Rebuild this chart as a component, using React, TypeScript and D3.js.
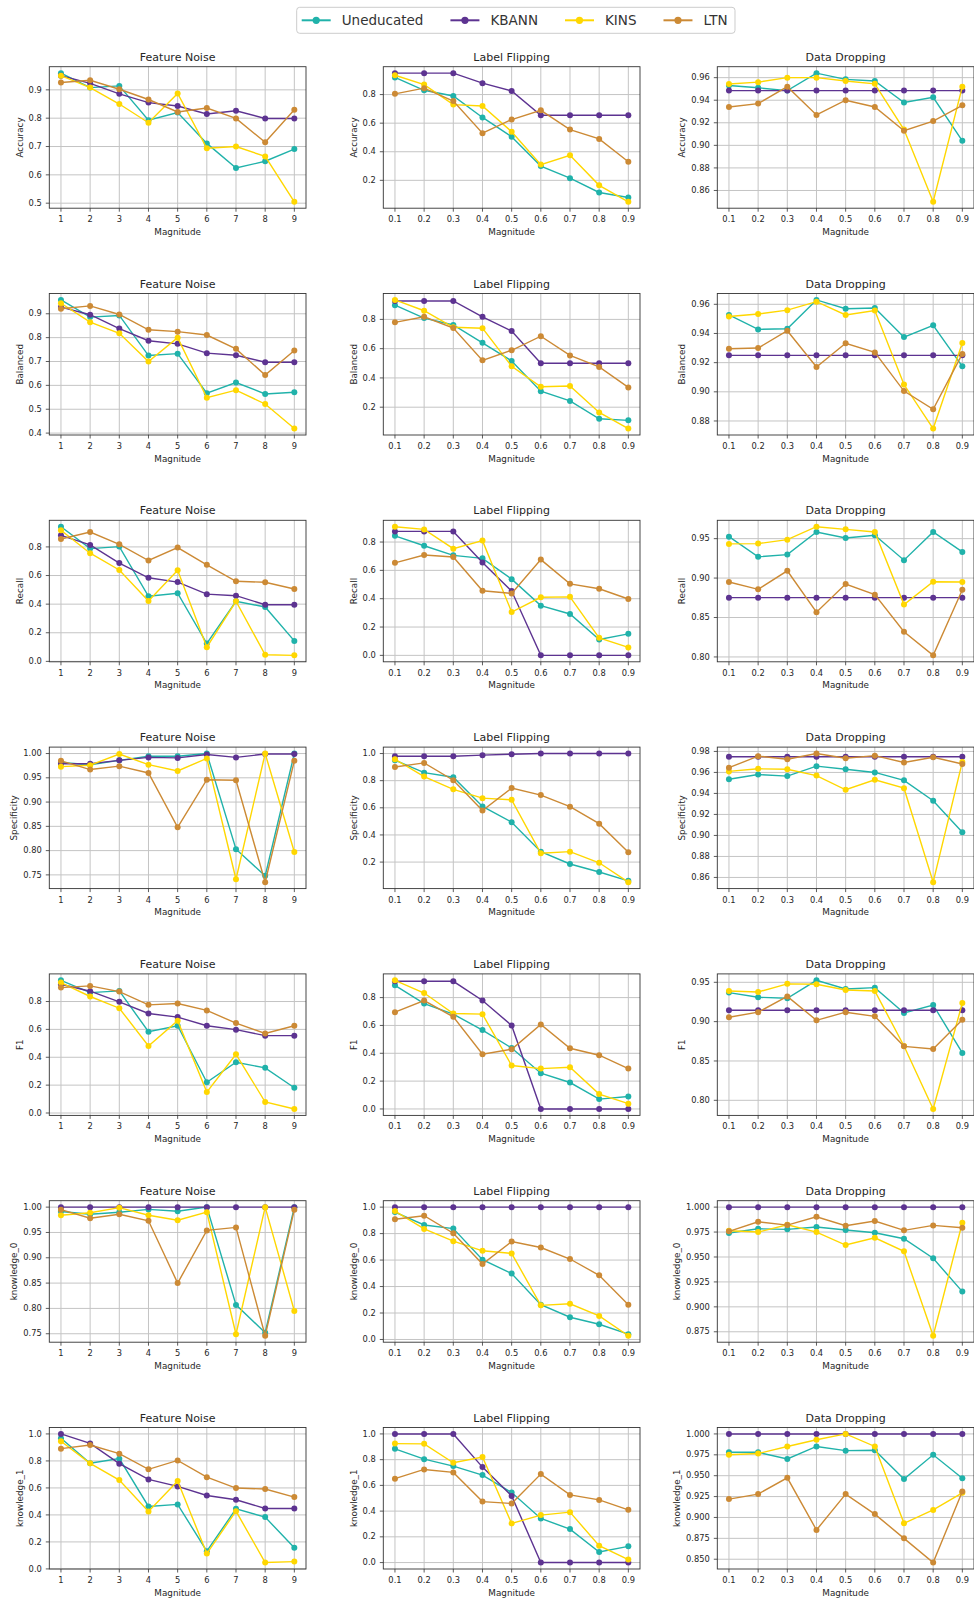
import React from "react";
import * as d3 from "d3";

const seriesNames = ["Uneducated", "KBANN", "KINS", "LTN"];
const seriesColors = ["#20b2aa", "#5d3391", "#ffd700", "#cc8a35"];
const attackNames = ["Feature Noise", "Label Flipping", "Data Dropping"];
const metricNames = ["Accuracy", "Balanced", "Recall", "Specificity", "F1", "knowledge_0", "knowledge_1"];

const noiseMagnitude = [1, 2, 3, 4, 5, 6, 7, 8, 9];
const fractionMagnitude = [0.1, 0.2, 0.3, 0.4, 0.5, 0.6, 0.7, 0.8, 0.9];
const noiseTickLabels = ["1", "2", "3", "4", "5", "6", "7", "8", "9"];
const fractionTickLabels = ["0.1", "0.2", "0.3", "0.4", "0.5", "0.6", "0.7", "0.8", "0.9"];

// each array: [Uneducated, KBANN, KINS, LTN]
const accuracyNoise = [
  [0.959, 0.908, 0.914, 0.793, 0.82, 0.711, 0.624, 0.648, 0.691],
  [0.95, 0.923, 0.886, 0.855, 0.843, 0.815, 0.826, 0.799, 0.799],
  [0.95, 0.908, 0.85, 0.784, 0.887, 0.694, 0.7, 0.665, 0.505],
  [0.926, 0.934, 0.902, 0.866, 0.822, 0.836, 0.799, 0.715, 0.83],
];
const accuracyFlip = [
  [0.92, 0.83, 0.79, 0.64, 0.505, 0.3, 0.215, 0.115, 0.08],
  [0.95, 0.95, 0.95, 0.88, 0.825, 0.655, 0.655, 0.655, 0.655],
  [0.935, 0.87, 0.73, 0.72, 0.54, 0.31, 0.375, 0.165, 0.05],
  [0.805, 0.845, 0.755, 0.53, 0.625, 0.69, 0.555, 0.49, 0.33],
];
const accuracyDrop = [
  [0.953, 0.951, 0.9485, 0.964, 0.9585, 0.957, 0.938, 0.9426, 0.904],
  [0.9485, 0.9485, 0.9485, 0.9485, 0.9485, 0.9485, 0.9485, 0.9485, 0.9485],
  [0.9544, 0.956, 0.96, 0.96, 0.957, 0.9545, 0.914, 0.85, 0.952],
  [0.934, 0.937, 0.952, 0.927, 0.94, 0.934, 0.913, 0.9215, 0.9355],
];

const balancedNoise = [
  [0.958, 0.886, 0.893, 0.725, 0.733, 0.567, 0.612, 0.564, 0.571],
  [0.928, 0.896, 0.838, 0.787, 0.774, 0.735, 0.726, 0.697, 0.697],
  [0.944, 0.865, 0.818, 0.7, 0.8, 0.548, 0.58, 0.522, 0.419],
  [0.921, 0.933, 0.897, 0.833, 0.825, 0.811, 0.753, 0.643, 0.746],
];
const balancedFlip = [
  [0.897, 0.809, 0.762, 0.64, 0.516, 0.309, 0.243, 0.121, 0.11],
  [0.926, 0.926, 0.926, 0.818, 0.721, 0.5, 0.5, 0.5, 0.5],
  [0.933, 0.859, 0.746, 0.74, 0.48, 0.34, 0.345, 0.164, 0.054],
  [0.78, 0.818, 0.741, 0.52, 0.589, 0.685, 0.554, 0.475, 0.335],
];
const balancedDrop = [
  [0.9527, 0.9428, 0.9432, 0.963, 0.957, 0.9575, 0.9375, 0.9456, 0.9175],
  [0.925, 0.925, 0.925, 0.925, 0.925, 0.925, 0.925, 0.925, 0.925],
  [0.9516, 0.9534, 0.956, 0.9618, 0.9527, 0.9557, 0.905, 0.8748, 0.9335],
  [0.9295, 0.93, 0.9419, 0.917, 0.9333, 0.927, 0.9005, 0.888, 0.926],
];

const recallNoise = [
  [0.941, 0.788, 0.802, 0.455, 0.476, 0.125, 0.42, 0.38, 0.143],
  [0.881, 0.814, 0.687, 0.584, 0.554, 0.47, 0.459, 0.396, 0.396],
  [0.916, 0.756, 0.639, 0.422, 0.636, 0.099, 0.42, 0.046, 0.042],
  [0.855, 0.904, 0.818, 0.705, 0.795, 0.675, 0.56, 0.553, 0.506],
];
const recallFlip = [
  [0.844, 0.774, 0.706, 0.685, 0.538, 0.351, 0.292, 0.112, 0.152],
  [0.875, 0.875, 0.875, 0.655, 0.454, 0.0, 0.0, 0.0, 0.0],
  [0.908, 0.889, 0.753, 0.81, 0.306, 0.41, 0.413, 0.124, 0.056],
  [0.653, 0.708, 0.694, 0.456, 0.437, 0.676, 0.505, 0.47, 0.398],
];
const recallDrop = [
  [0.9525, 0.9269, 0.9298, 0.9584, 0.9508, 0.9542, 0.9227, 0.9584, 0.9332],
  [0.8752, 0.8752, 0.8752, 0.8752, 0.8752, 0.8752, 0.8752, 0.8752, 0.8752],
  [0.9433, 0.9437, 0.9487, 0.9651, 0.9618, 0.9584, 0.8664, 0.8954, 0.895],
  [0.895, 0.8857, 0.9092, 0.8567, 0.8924, 0.879, 0.832, 0.802, 0.8853],
];

const specificityNoise = [
  [0.9815, 0.977, 0.986, 0.9945, 0.9945, 1.0, 0.803, 0.748, 1.0],
  [0.979, 0.979, 0.986, 0.992, 0.991, 0.998, 0.992, 0.999, 0.999],
  [0.973, 0.976, 0.999, 0.977, 0.964, 0.99, 0.741, 1.0, 0.797],
  [0.985, 0.967, 0.974, 0.96, 0.848, 0.946, 0.945, 0.735, 0.985],
];
const specificityFlip = [
  [0.951, 0.859, 0.825, 0.61, 0.494, 0.277, 0.186, 0.127, 0.062],
  [0.98, 0.98, 0.98, 0.988, 0.995, 1.0, 1.0, 1.0, 1.0],
  [0.958, 0.83, 0.736, 0.671, 0.659, 0.265, 0.277, 0.195, 0.052],
  [0.901, 0.931, 0.803, 0.58, 0.746, 0.694, 0.608, 0.483, 0.273],
];
const specificityDrop = [
  [0.9535, 0.958, 0.9565, 0.966, 0.963, 0.96, 0.9525, 0.933, 0.903],
  [0.975, 0.975, 0.975, 0.975, 0.975, 0.975, 0.975, 0.975, 0.975],
  [0.961, 0.9635, 0.963, 0.957, 0.9435, 0.953, 0.945, 0.8555, 0.97],
  [0.9645, 0.9755, 0.9725, 0.978, 0.9735, 0.976, 0.9695, 0.9745, 0.968],
];

const f1Noise = [
  [0.952, 0.864, 0.876, 0.583, 0.626, 0.221, 0.364, 0.324, 0.181],
  [0.924, 0.874, 0.798, 0.714, 0.688, 0.626, 0.598, 0.555, 0.555],
  [0.936, 0.836, 0.752, 0.481, 0.662, 0.15, 0.421, 0.079, 0.029],
  [0.9, 0.912, 0.871, 0.776, 0.786, 0.736, 0.645, 0.571, 0.626],
];
const f1Flip = [
  [0.888, 0.757, 0.681, 0.567, 0.438, 0.257, 0.19, 0.071, 0.09],
  [0.917, 0.917, 0.917, 0.779, 0.6, 0.0, 0.0, 0.0, 0.0],
  [0.924, 0.833, 0.686, 0.681, 0.312, 0.29, 0.3, 0.107, 0.038],
  [0.695, 0.779, 0.662, 0.393, 0.429, 0.607, 0.436, 0.386, 0.29],
];
const f1Drop = [
  [0.9369, 0.931, 0.9297, 0.9525, 0.9415, 0.9432, 0.911, 0.9212, 0.8602],
  [0.9144, 0.9144, 0.9144, 0.9144, 0.9144, 0.9144, 0.9144, 0.9144, 0.9144],
  [0.939, 0.9377, 0.948, 0.9475, 0.9403, 0.939, 0.869, 0.789, 0.9237],
  [0.9055, 0.912, 0.932, 0.9017, 0.912, 0.9068, 0.8686, 0.8653, 0.9025],
];

const knowledge0Noise = [
  [0.9915, 0.986, 0.99, 0.9955, 0.992, 1.0, 0.807, 0.752, 1.0],
  [1.0, 1.0, 1.0, 1.0, 1.0, 1.0, 1.0, 1.0, 1.0],
  [0.984, 0.989, 0.999, 0.984, 0.974, 0.99, 0.749, 1.0, 0.795],
  [0.995, 0.978, 0.986, 0.973, 0.85, 0.954, 0.96, 0.746, 0.995],
];
const knowledge0Flip = [
  [0.963, 0.865, 0.838, 0.603, 0.498, 0.263, 0.168, 0.115, 0.04],
  [1.0, 1.0, 1.0, 1.0, 1.0, 1.0, 1.0, 1.0, 1.0],
  [0.97, 0.835, 0.743, 0.67, 0.65, 0.258, 0.27, 0.178, 0.028],
  [0.908, 0.935, 0.803, 0.57, 0.74, 0.695, 0.608, 0.485, 0.263],
];
const knowledge0Drop = [
  [0.974, 0.9783, 0.9777, 0.98, 0.977, 0.9743, 0.9683, 0.9487, 0.9153],
  [1.0, 1.0, 1.0, 1.0, 1.0, 1.0, 1.0, 1.0, 1.0],
  [0.9763, 0.975, 0.9823, 0.975, 0.962, 0.9693, 0.9557, 0.871, 0.9843],
  [0.9757, 0.9853, 0.982, 0.9903, 0.9813, 0.986, 0.9767, 0.9817, 0.9793],
];

const knowledge1Noise = [
  [0.968, 0.783, 0.817, 0.463, 0.478, 0.131, 0.445, 0.384, 0.156],
  [1.0, 0.93, 0.78, 0.663, 0.611, 0.544, 0.512, 0.448, 0.448],
  [0.946, 0.782, 0.658, 0.425, 0.651, 0.114, 0.428, 0.047, 0.054],
  [0.891, 0.918, 0.854, 0.738, 0.804, 0.68, 0.599, 0.592, 0.532],
];
const knowledge1Flip = [
  [0.884, 0.804, 0.75, 0.68, 0.544, 0.343, 0.26, 0.082, 0.126],
  [1.0, 1.0, 1.0, 0.742, 0.518, 0.0, 0.0, 0.0, 0.0],
  [0.925, 0.923, 0.776, 0.82, 0.304, 0.369, 0.392, 0.131, 0.023],
  [0.652, 0.724, 0.701, 0.474, 0.459, 0.688, 0.526, 0.487, 0.41],
];
const knowledge1Drop = [
  [0.978, 0.978, 0.97, 0.985, 0.98, 0.9805, 0.946, 0.975, 0.947],
  [1.0, 1.0, 1.0, 1.0, 1.0, 1.0, 1.0, 1.0, 1.0],
  [0.975, 0.9765, 0.985, 0.993, 1.0, 0.985, 0.893, 0.909, 0.9295],
  [0.922, 0.928, 0.9475, 0.885, 0.928, 0.904, 0.875, 0.846, 0.931],
];

// y tick labels per metric row, one list per attack column
const accuracyTicks = [["0.5", "0.6", "0.7", "0.8", "0.9"], ["0.2", "0.4", "0.6", "0.8"], ["0.86", "0.88", "0.90", "0.92", "0.94", "0.96"]];
const balancedTicks = [["0.4", "0.5", "0.6", "0.7", "0.8", "0.9"], ["0.2", "0.4", "0.6", "0.8"], ["0.88", "0.90", "0.92", "0.94", "0.96"]];
const recallTicks = [["0.0", "0.2", "0.4", "0.6", "0.8"], ["0.0", "0.2", "0.4", "0.6", "0.8"], ["0.80", "0.85", "0.90", "0.95"]];
const specificityTicks = [["0.75", "0.80", "0.85", "0.90", "0.95", "1.00"], ["0.2", "0.4", "0.6", "0.8", "1.0"], ["0.86", "0.88", "0.90", "0.92", "0.94", "0.96", "0.98"]];
const f1Ticks = [["0.0", "0.2", "0.4", "0.6", "0.8"], ["0.0", "0.2", "0.4", "0.6", "0.8"], ["0.80", "0.85", "0.90", "0.95"]];
const knowledge0Ticks = [["0.75", "0.80", "0.85", "0.90", "0.95", "1.00"], ["0.0", "0.2", "0.4", "0.6", "0.8", "1.0"], ["0.875", "0.900", "0.925", "0.950", "0.975", "1.000"]];
const knowledge1Ticks = [["0.0", "0.2", "0.4", "0.6", "0.8", "1.0"], ["0.0", "0.2", "0.4", "0.6", "0.8", "1.0"], ["0.850", "0.875", "0.900", "0.925", "0.950", "0.975", "1.000"]];

const panelData = [
  [accuracyNoise, accuracyFlip, accuracyDrop],
  [balancedNoise, balancedFlip, balancedDrop],
  [recallNoise, recallFlip, recallDrop],
  [specificityNoise, specificityFlip, specificityDrop],
  [f1Noise, f1Flip, f1Drop],
  [knowledge0Noise, knowledge0Flip, knowledge0Drop],
  [knowledge1Noise, knowledge1Flip, knowledge1Drop],
];
const panelTicks = [accuracyTicks, balancedTicks, recallTicks, specificityTicks, f1Ticks, knowledge0Ticks, knowledge1Ticks];

const W = 974;
const H = 1600;
const colLeft = [49.3, 383.3, 717.3];
const axW = 256.7;
const axH = 141.5;
const rowTop0 = 66.7;
const rowStep = 226.8;
const font = "DejaVu Sans, sans-serif";
const textColor = "#262626";

function measure(text, size) {
  const ctx = document.createElement("canvas").getContext("2d");
  ctx.font = `${size}px DejaVu Sans`;
  return ctx.measureText(text).width;
}

function Panel({ left, top, title, ylabel, xs, xTicks, series, yTicks }) {
  const pad = (xs[xs.length - 1] - xs[0]) * 0.05;
  const xScale = d3.scaleLinear().domain([xs[0] - pad, xs[xs.length - 1] + pad]).range([0, axW]);
  const all = series.flat();
  const lo = d3.min(all);
  const hi = d3.max(all);
  const m = (hi - lo) * 0.05;
  const yScale = d3.scaleLinear().domain([lo - m, hi + m]).range([axH, 0]);

  const line = d3.line()
    .x((d, i) => xScale(xs[i]))
    .y((d) => yScale(d));

  const maxTickW = d3.max(yTicks, (t) => measure(t, 8.3));

  return (
    <g transform={`translate(${left},${top})`}>
      {xs.map((x, i) => (
        <line key={"gx" + i} x1={xScale(x)} x2={xScale(x)} y1={0} y2={axH} stroke="#c4c4c4" strokeWidth={1} />
      ))}
      {yTicks.map((t) => (
        <line key={"gy" + t} x1={0} x2={axW} y1={yScale(+t)} y2={yScale(+t)} stroke="#c4c4c4" strokeWidth={1} />
      ))}
      {series.map((vals, s) => (
        <g key={s}>
          <path d={line(vals)} fill="none" stroke={seriesColors[s]} strokeWidth={1.4} />
          {vals.map((v, i) => (
            <circle key={i} cx={xScale(xs[i])} cy={yScale(v)} r={3} fill={seriesColors[s]} />
          ))}
        </g>
      ))}
      <rect x={0} y={0} width={axW} height={axH} fill="none" stroke="#333" strokeWidth={0.9} />
      {xs.map((x, i) => (
        <g key={"tx" + i} transform={`translate(${xScale(x)},${axH})`}>
          <line y1={0} y2={3.5} stroke="#333" strokeWidth={0.8} />
          <text y={14} textAnchor="middle" fontSize={8.3} fontFamily={font} fill={textColor}>{xTicks[i]}</text>
        </g>
      ))}
      {yTicks.map((t) => (
        <g key={"ty" + t} transform={`translate(0,${yScale(+t)})`}>
          <line x1={-3.5} x2={0} stroke="#333" strokeWidth={0.8} />
          <text x={-7.5} dy="0.32em" textAnchor="end" fontSize={8.3} fontFamily={font} fill={textColor}>{t}</text>
        </g>
      ))}
      <text x={axW / 2} y={-6} textAnchor="middle" fontSize={11} fontFamily={font} fill={textColor}>{title}</text>
      <text x={axW / 2} y={axH + 26.5} textAnchor="middle" fontSize={8.8} fontFamily={font} fill={textColor}>Magnitude</text>
      <text
        transform={`translate(${-11 - maxTickW - 2.5},${axH / 2}) rotate(-90)`}
        textAnchor="middle"
        fontSize={8.8}
        fontFamily={font}
        fill={textColor}
      >
        {ylabel}
      </text>
    </g>
  );
}

function Legend() {
  const size = 13.5;
  const handle = 29;
  const gapText = 11;
  const colGap = 27;
  let x = 301.7;
  const items = seriesNames.map((name, i) => {
    const item = { name, color: seriesColors[i], x };
    x += handle + gapText + measure(name, size) + colGap;
    return item;
  });
  const boxRight = x - colGap + 7.5;
  return (
    <g>
      <rect x={296.7} y={7.3} width={boxRight - 296.7} height={26} rx={3} fill="#fff" stroke="#cccccc" strokeWidth={1} />
      {items.map((it) => (
        <g key={it.name} transform={`translate(${it.x},20.3)`}>
          <line x1={0} x2={handle} stroke={it.color} strokeWidth={2} />
          <circle cx={handle / 2} cy={0} r={3.6} fill={it.color} />
          <text x={handle + gapText} dy="0.36em" fontSize={size} fontFamily={font} fill="#333">{it.name}</text>
        </g>
      ))}
    </g>
  );
}

export default function App() {
  return (
    <div style={{ position: "absolute", left: 0, top: 0 }}>
      <svg width={W} height={H} style={{ display: "block", background: "#fff" }}>
        {metricNames.map((metric, r) =>
          attackNames.map((attack, c) => (
            <Panel
              key={metric + attack}
              left={colLeft[c]}
              top={rowTop0 + r * rowStep}
              title={attack}
              ylabel={metric}
              xs={c === 0 ? noiseMagnitude : fractionMagnitude}
              xTicks={c === 0 ? noiseTickLabels : fractionTickLabels}
              series={panelData[r][c]}
              yTicks={panelTicks[r][c]}
            />
          ))
        )}
        <Legend />
      </svg>
    </div>
  );
}
